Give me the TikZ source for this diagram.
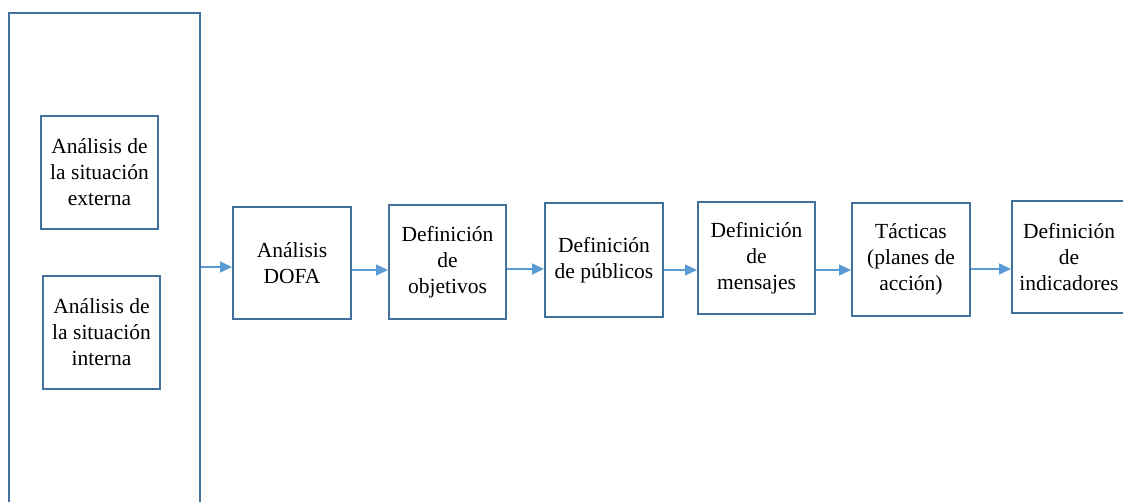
\documentclass[tikz,border=0pt]{standalone}
\usepackage{fontspec}
\setmainfont{Liberation Serif}
\usetikzlibrary{arrows.meta}
\definecolor{boxblue}{HTML}{41719C}
\definecolor{arrblue}{HTML}{5B9BD5}
\tikzset{
  stepbox/.style={draw=boxblue, line width=2pt, align=center, inner sep=2pt,
    font=\fontsize{21.5}{26}\selectfont, minimum width=117pt, minimum height=113pt},
  flowarrow/.style={draw=arrblue, line width=1.5pt, -{Triangle[length=12pt,width=11pt]}}
}
\begin{document}
\begin{tikzpicture}[x=1pt,y=-1pt]
\clip (0,0) rectangle (1123,502);
\fill[white] (0,0) rectangle (1123,502);
\node[stepbox, minimum width=191pt, minimum height=520pt] (big) at (104.5,273) {};
\node[stepbox] (ext) at (99.5,172.5) {Análisis de\\la situación\\externa};
\node[stepbox] (int) at (101.5,332.5) {Análisis de\\la situación\\interna};
\node[stepbox, minimum width=118pt, minimum height=112pt] (dofa) at (292,263) {Análisis\\DOFA};
\node[stepbox, minimum height=114pt] (obj) at (447.5,262) {Definición\\de\\objetivos};
\node[stepbox, minimum width=118pt, minimum height=114pt] (pub) at (604,260) {Definición\\de públicos};
\node[stepbox, minimum height=112pt] (men) at (756.5,258) {Definición\\de\\mensajes};
\node[stepbox, minimum width=118pt] (tac) at (911,259.5) {Tácticas\\(planes de\\acción)};
\node[stepbox, minimum width=114pt, minimum height=112pt] (ind) at (1069,257) {Definición\\de\\indicadores};
\draw[flowarrow] (big.east |- 0,267) -- (dofa.west |- 0,267);
\draw[flowarrow] (dofa.east |- 0,270) -- (obj.west |- 0,270);
\draw[flowarrow] (obj.east |- 0,269) -- (pub.west |- 0,269);
\draw[flowarrow] (pub.east |- 0,270) -- (men.west |- 0,270);
\draw[flowarrow] (men.east |- 0,270) -- (tac.west |- 0,270);
\draw[flowarrow] (tac.east |- 0,269) -- (ind.west |- 0,269);
\end{tikzpicture}
\end{document}
